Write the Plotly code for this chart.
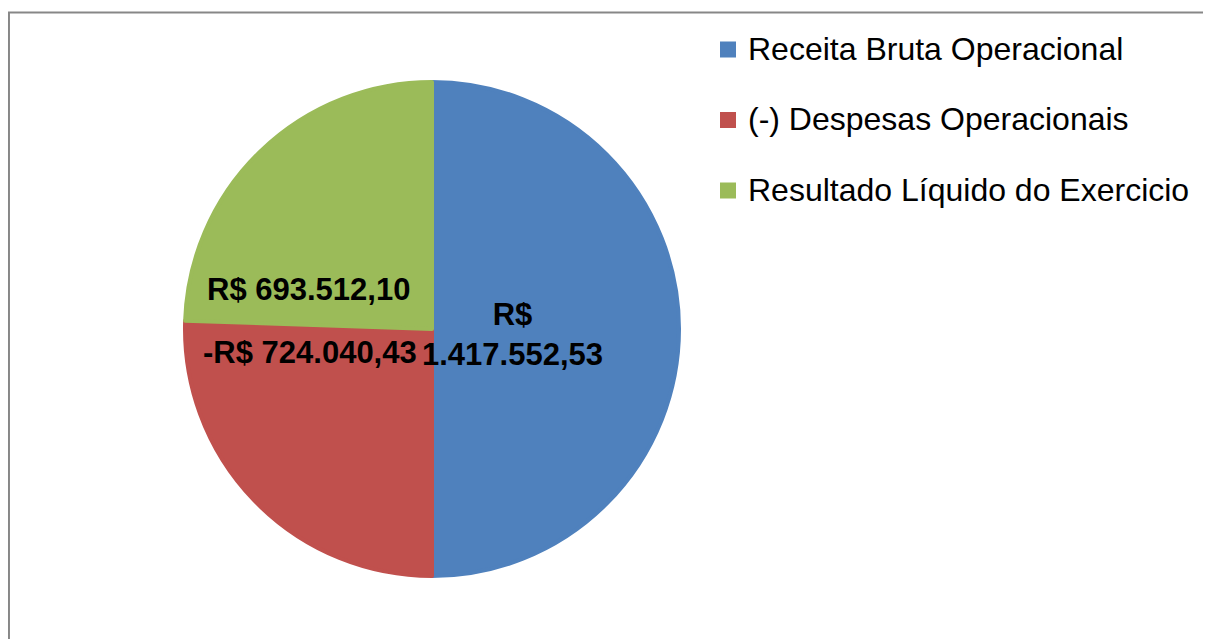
import plotly.graph_objects as go

# ---- data ----
categories = ["Receita Bruta Operacional", "(-) Despesas Operacionais", "Resultado Líquido do Exercicio"]
amounts = [1417552.53, -724040.43, 693512.10]
colors = ["#4F81BD", "#C0504D", "#9BBB59"]
label_wrap = [True, False, False]


def brl(v, wrap=False):
    s = f"{abs(v):,.2f}".replace(",", "X").replace(".", ",").replace("X", ".")
    sign = "-" if v < 0 else ""
    sep = "<br>" if wrap else " "
    return f"{sign}R${sep}{s}"


label_text = [brl(v, w) for v, w in zip(amounts, label_wrap)]
legend_labels = [f"<span style='font-size:32px'>{c}</span><br>\u00a0" for c in categories]

FONT = "Arial, Liberation Sans, sans-serif"
# the page body keeps an 8px margin, so the figure is placed 8px in from the window edge
W, H = 1203, 631
CX, CY, R = 424, 321, 247

fig = go.Figure()
fig.add_trace(go.Pie(
    labels=legend_labels,
    values=[abs(v) for v in amounts],
    sort=False,
    direction="clockwise",
    rotation=0,
    marker=dict(colors=colors, line=dict(color=colors, width=4)),
    textinfo="none",
    hoverinfo="skip",
    domain=dict(x=[(CX - R) / W, (CX + R) / W], y=[(H - CY - R) / H, (H - CY + R) / H]),
))

# data labels (positions like the reference's best-fit placement)
label_pos = [(504, 326), (302, 344), (300.5, 281)]
for (px, py), t in zip(label_pos, label_text):
    fig.add_annotation(
        x=px / W, y=1 - py / H, xref="paper", yref="paper",
        text=f"<b>{t}</b>", showarrow=False,
        font=dict(family=FONT, size=31, color="black"),
        xanchor="center", yanchor="middle",
    )

# chart-area border (left and top edges are the visible ones)
border_y = 1 - 4.5 / H
fig.add_shape(type="line", xref="paper", yref="paper", x0=0.0008, x1=0.0008, y0=0.0, y1=border_y,
              line=dict(color="#878787", width=2), layer="below")
fig.add_shape(type="line", xref="paper", yref="paper", x0=0.0, x1=1.0, y0=border_y, y1=border_y,
              line=dict(color="#878787", width=2), layer="below")

fig.update_layout(
    width=W, height=H,
    margin=dict(l=0, r=0, t=0, b=0),
    paper_bgcolor="white",
    plot_bgcolor="white",
    showlegend=True,
    legend=dict(
        x=700 / W, y=1 - 18 / H, xanchor="left", yanchor="top",
        font=dict(family=FONT, size=26, color="black"),
        valign="top",
        bgcolor="rgba(0,0,0,0)",
    ),
)

fig.write_html("out.html")
